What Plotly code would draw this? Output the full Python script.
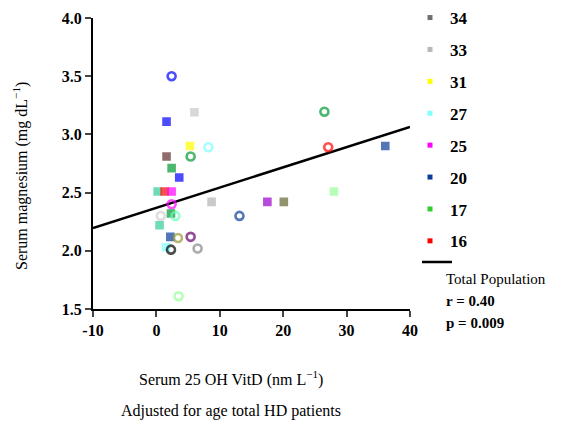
import plotly.graph_objects as go

# ---- data ----
pt_x = [2.4, 6.0, 1.6, 26.5, 5.3, 8.2, 27.1, 36.1, 1.6, 5.4,
        2.4, 3.6, 0.2, 1.3, 2.4, 28.0, 8.7, 17.5, 20.1, 2.4,
        0.7, 2.3, 3.0, 13.1, 0.5, 2.2, 3.4, 5.4, 1.5, 2.3,
        6.5, 3.5]
pt_y = [3.50, 3.19, 3.11, 3.195, 2.90, 2.89, 2.89, 2.90, 2.81, 2.81,
        2.71, 2.63, 2.51, 2.51, 2.51, 2.51, 2.42, 2.42, 2.42, 2.40,
        2.30, 2.32, 2.30, 2.30, 2.22, 2.12, 2.11, 2.12, 2.03, 2.01,
        2.02, 1.61]
pt_color = ["#0000ff", "#c8c8c8", "#0000ff", "#009933", "#ffff00", "#80ffff", "#ff0000", "#0a3d9a", "#603030", "#009933",
            "#009933", "#0000ff", "#33cc99", "#ff0000", "#ff00ff", "#99ff99", "#b4b4b4", "#9900cc", "#666633", "#ff00ff",
            "#d0d0d0", "#009933", "#66ffbb", "#0a3d9a", "#33cc99", "#0a3d9a", "#999933", "#660066", "#80ffff", "#000000",
            "#888888", "#99ff99"]
pt_symbol = ["circle-open", "square", "square", "circle-open", "square", "circle-open", "circle-open", "square", "square", "circle-open",
             "square", "square", "square", "square", "square", "square", "square", "square", "square", "circle-open",
             "circle-open", "square", "circle-open", "circle-open", "square", "square", "circle-open", "circle-open", "square", "circle-open",
             "circle-open", "circle-open"]

legend_names = ["34", "33", "31", "27", "25", "20", "17", "16"]
legend_colors = ["#707070", "#b8b8b8", "#ffff00", "#80ffff", "#ff00ff", "#0a3d9a", "#33cc33", "#ff0000"]

fit_x = [-10, 40]
fit_intercept = 2.37
fit_slope = 0.01736
fit_y = [fit_intercept + fit_slope * v for v in fit_x]

x_ticks = [-10, 0, 10, 20, 30, 40]
x_ticktext = ["-10", "0", "10", "20", "30", "40"]
y_ticks = [1.5, 2.0, 2.5, 3.0, 3.5, 4.0]

FONT = "Liberation Serif"

fig = go.Figure()

fig.add_trace(go.Scatter(
    x=fit_x, y=fit_y, mode="lines",
    line=dict(color="black", width=2.5),
    name=" ", legend="legend2", showlegend=True, hoverinfo="skip"))

sizes = [8 if s == "circle-open" else 6 for s in pt_symbol]
fig.add_trace(go.Scatter(
    x=pt_x, y=pt_y, mode="markers", showlegend=False,
    marker=dict(color=pt_color, symbol=pt_symbol, size=sizes,
                line=dict(width=2.6, color=pt_color))))

for i, (nm, col) in enumerate(zip(legend_names, legend_colors)):
    fig.add_trace(go.Scatter(
        x=[None], y=[None], mode="markers", name=nm, legendgroup=nm,
        marker=dict(color=col, symbol="square", size=5)))

# page body adds an 8px offset, so the figure is sized to fit the window
fig.update_layout(
    width=579, height=418,
    margin=dict(l=85, r=177, t=10, b=117, autoexpand=False),
    paper_bgcolor="white", plot_bgcolor="white",
    font=dict(family=FONT, color="black"),
    legend=dict(x=1.0, y=(309 + 0) / 291, xanchor="left", yanchor="top",
                font=dict(family=FONT, size=17, color="black", weight="bold"),
                tracegroupgap=6.8, itemwidth=30, bgcolor="rgba(0,0,0,0)",
                maxheight=1.0),
    legend2=dict(x=1.022, y=(309 - 262) / 291, xanchor="left", yanchor="middle",
                 font=dict(family=FONT, size=12), itemwidth=30,
                 bgcolor="rgba(0,0,0,0)"),
    xaxis=dict(range=[-10, 40], tickvals=x_ticks, ticktext=x_ticktext, ticks="outside", ticklen=6, tickwidth=2,
               showline=True, linecolor="black", linewidth=2, showgrid=False, zeroline=False,
               tickfont=dict(family=FONT, size=16, weight="bold", color="black")),
    yaxis=dict(range=[1.5, 4.0], tickvals=y_ticks, tickformat=".1f", ticks="outside", ticklen=6, tickwidth=2,
               showline=True, linecolor="black", linewidth=2, showgrid=False, zeroline=False,
               tickfont=dict(family=FONT, size=16, weight="bold", color="black")),
    annotations=[
        dict(text="Serum magnesium (mg dL<sup>−1</sup>)", xref="paper", yref="paper",
             x=(20 - 93) / 317, y=(309 - 176) / 291, textangle=-90, showarrow=False,
             font=dict(family=FONT, size=16), xanchor="center", yanchor="middle"),
        dict(text="Serum 25 OH VitD (nm L<sup>−1</sup>)", xref="paper", yref="paper",
             x=(231 - 93) / 317, y=(309 - 378) / 291, showarrow=False,
             font=dict(family=FONT, size=16), xanchor="center", yanchor="middle"),
        dict(text="Adjusted for age total HD patients", xref="paper", yref="paper",
             x=(231 - 93) / 317, y=(309 - 411) / 291, showarrow=False,
             font=dict(family=FONT, size=16), xanchor="center", yanchor="middle"),
        dict(text="Total Population", xref="paper", yref="paper",
             x=(444 - 93) / 317, y=(309 - 279) / 291, showarrow=False,
             font=dict(family=FONT, size=15), xanchor="left", yanchor="middle"),
        dict(text="<b>r = 0.40</b>", xref="paper", yref="paper",
             x=(444 - 93) / 317, y=(309 - 301) / 291, showarrow=False,
             font=dict(family=FONT, size=15), xanchor="left", yanchor="middle"),
        dict(text="<b>p = 0.009</b>", xref="paper", yref="paper",
             x=(444 - 93) / 317, y=(309 - 323) / 291, showarrow=False,
             font=dict(family=FONT, size=15), xanchor="left", yanchor="middle"),
    ],
)

fig.write_html("out.html")
